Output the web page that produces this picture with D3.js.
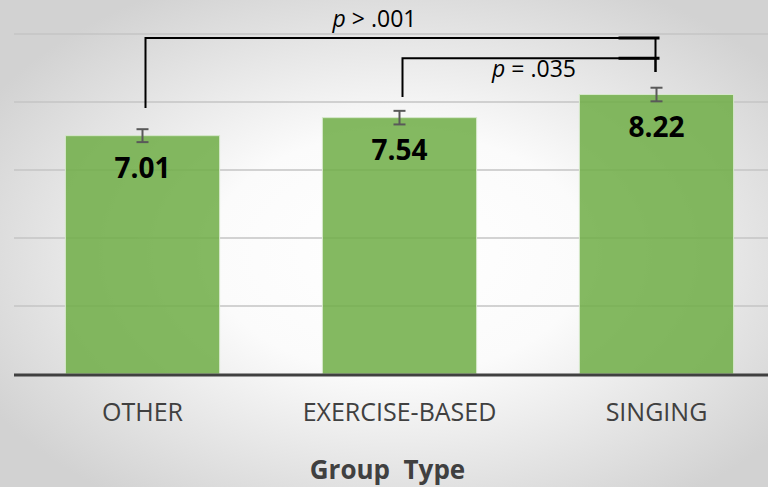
<!DOCTYPE html>
<meta charset="utf-8">
<script src="https://d3js.org/d3.v7.min.js"></script>
<style>
  html, body { margin: 0; padding: 0; overflow: hidden; }
  svg { display: block; font-family: "Open Sans", sans-serif; }
</style>
<body>
<script>
// chart values
var categories = ["OTHER", "EXERCISE-BASED", "SINGING"];
var means = [7.01, 7.54, 8.22];
var errors = [0.19, 0.2, 0.2];
var gridTicks = [2, 4, 6, 8, 10];
var axisTitle = "Group  Type";

// significance brackets (levels in data units)
var comparisons = [
  {from: "OTHER", to: "SINGING", level: 9.88, fromEnd: 7.82, toEnd: 8.88, sign: "> .001", dx: -25, dy: -11},
  {from: "EXERCISE-BASED", to: "SINGING", level: 9.29, fromEnd: 8.15, toEnd: 8.88, sign: "= .035", dx: 6, dy: 19}
];

var width = 768, height = 487;
var data = categories.map((c, i) => ({name: c, mean: means[i], err: errors[i]}));

var x = d3.scaleBand(categories, [14, 785]).paddingInner(0.4).paddingOuter(0.2);
var y = d3.scaleLinear([0, 10], [374, 34]);
var cx = d => x(d) + x.bandwidth() / 2;

var svg = d3.select("body").append("svg")
    .attr("width", width)
    .attr("height", height);

var grad = svg.append("defs").append("radialGradient")
    .attr("id", "bg")
    .attr("cx", "52%").attr("cy", "52%").attr("r", "62%");
grad.append("stop").attr("offset", "0%").attr("stop-color", "#ffffff");
grad.append("stop").attr("offset", "40%").attr("stop-color", "#fbfbfb");
grad.append("stop").attr("offset", "100%").attr("stop-color", "#d2d2d2");

svg.append("rect")
    .attr("width", width)
    .attr("height", height)
    .attr("fill", "url(#bg)");

// gridlines
svg.append("g")
  .selectAll("line")
  .data(gridTicks)
  .join("line")
    .attr("x1", 14)
    .attr("x2", width)
    .attr("y1", d => y(d))
    .attr("y2", d => y(d))
    .attr("stroke", "#c4c4c4")
    .attr("stroke-width", 1.6);

// bars
svg.append("g")
  .selectAll("rect")
  .data(data)
  .join("rect")
    .attr("x", d => x(d.name))
    .attr("y", d => y(d.mean))
    .attr("width", x.bandwidth())
    .attr("height", d => y(0) - y(d.mean))
    .attr("fill", "#70ad47")
    .attr("fill-opacity", 0.86)
    .attr("stroke", "#d6e8cb")
    .attr("stroke-width", 1);

// baseline
svg.append("line")
    .attr("x1", 14)
    .attr("x2", width)
    .attr("y1", y(0) + 1)
    .attr("y2", y(0) + 1)
    .attr("stroke", "#404040")
    .attr("stroke-width", 3);

// error bars
var eb = svg.append("g")
    .attr("stroke", "#595959")
    .attr("stroke-width", 2)
  .selectAll("g")
  .data(data)
  .join("g");
eb.append("line")
    .attr("x1", d => cx(d.name)).attr("x2", d => cx(d.name))
    .attr("y1", d => y(d.mean + d.err)).attr("y2", d => y(d.mean - d.err));
eb.append("line")
    .attr("x1", d => cx(d.name) - 6).attr("x2", d => cx(d.name) + 6)
    .attr("y1", d => y(d.mean + d.err)).attr("y2", d => y(d.mean + d.err));
eb.append("line")
    .attr("x1", d => cx(d.name) - 6).attr("x2", d => cx(d.name) + 6)
    .attr("y1", d => y(d.mean - d.err)).attr("y2", d => y(d.mean - d.err));

// value labels
svg.append("g")
    .attr("text-anchor", "middle")
    .attr("font-size", 28)
    .attr("font-weight", 700)
    .attr("fill", "#000")
  .selectAll("text")
  .data(data)
  .join("text")
    .attr("x", d => cx(d.name))
    .attr("y", d => y(d.mean) + 42)
    .text(d => d.mean.toFixed(2));

// category labels
svg.append("g")
    .attr("text-anchor", "middle")
    .attr("font-size", 25)
    .attr("fill", "#404040")
  .selectAll("text")
  .data(categories)
  .join("text")
    .attr("x", d => cx(d))
    .attr("y", 421)
    .text(d => d);

svg.append("text")
    .attr("x", cx(categories[1]) - 12)
    .attr("y", 479)
    .attr("text-anchor", "middle")
    .attr("font-size", 26)
    .attr("font-weight", 700)
    .attr("fill", "#404040")
    .style("white-space", "pre")
    .text(axisTitle);

// brackets
var br = svg.append("g")
  .selectAll("g")
  .data(comparisons)
  .join("g");
br.append("path")
    .attr("fill", "none")
    .attr("stroke", "#000")
    .attr("stroke-width", 2)
    .attr("d", d => `M${cx(d.from) + 3},${y(d.fromEnd)}V${y(d.level)}H${cx(d.to) - 1}V${y(d.toEnd)}`);
br.append("line")
    .attr("x1", d => cx(d.to) - 38).attr("x2", d => cx(d.to) + 3)
    .attr("y1", d => y(d.level)).attr("y2", d => y(d.level))
    .attr("stroke", "#000")
    .attr("stroke-width", 3);
var lbl = br.append("text")
    .attr("x", d => (cx(d.from) + cx(d.to)) / 2 + d.dx)
    .attr("y", d => y(d.level) + d.dy)
    .attr("text-anchor", "middle")
    .attr("font-size", 23)
    .attr("fill", "#000");
lbl.append("tspan").attr("font-style", "italic").text("p");
lbl.append("tspan").text(d => " " + d.sign);
</script>
</body>
